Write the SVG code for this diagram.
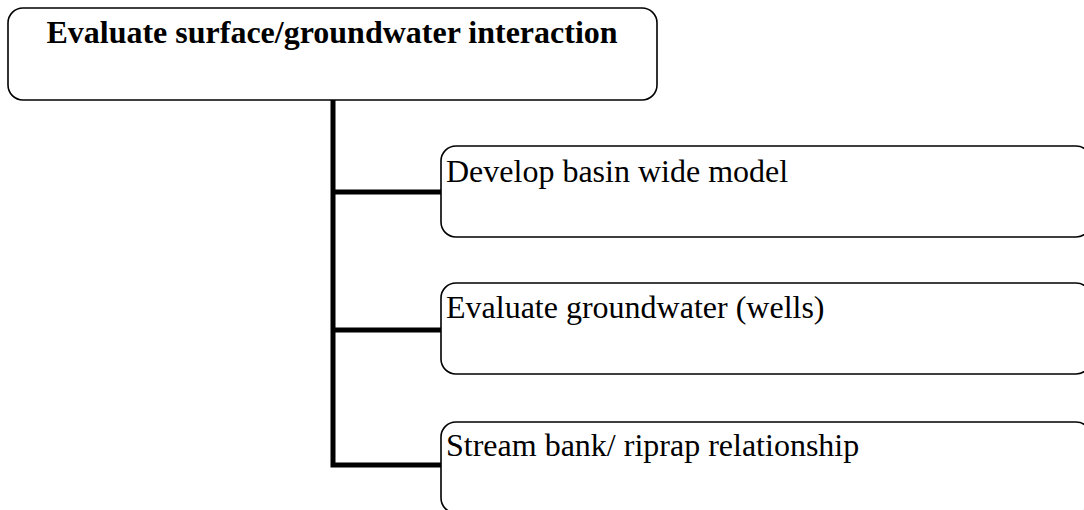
<svg xmlns="http://www.w3.org/2000/svg" width="1084" height="510" viewBox="0 0 1084 510">
<style>
.box{fill:#fff;stroke:#000;stroke-width:1.6}
.t{font-family:"Liberation Serif","Times New Roman",serif;font-size:32px;fill:#000}
.tb{font-family:"Liberation Serif","Times New Roman",serif;font-size:32px;font-weight:bold;fill:#000}
.c{fill:none;stroke:#000;stroke-width:5}
</style>
<rect width="1084" height="510" fill="#fff"/>
<g id="connectors">
<path class="c" d="M333 100 V467.5 M333 192 H441 M333 330 H441 M330.5 465 H441"/>
</g>
<g id="root">
<rect class="box" x="8" y="8" width="649" height="92" rx="15"/>
<text class="tb" x="332" y="43" text-anchor="middle">Evaluate surface/groundwater interaction</text>
</g>
<g id="n1">
<rect class="box" x="441" y="146" width="650" height="91" rx="15"/>
<text class="t" x="446" y="182">Develop basin wide model</text>
</g>
<g id="n2">
<rect class="box" x="441" y="283" width="650" height="91" rx="15"/>
<text class="t" x="446" y="318">Evaluate groundwater (wells)</text>
</g>
<g id="n3">
<rect class="box" x="441" y="422" width="650" height="91" rx="15"/>
<text class="t" x="446" y="456">Stream bank/ riprap relationship</text>
</g>
</svg>
